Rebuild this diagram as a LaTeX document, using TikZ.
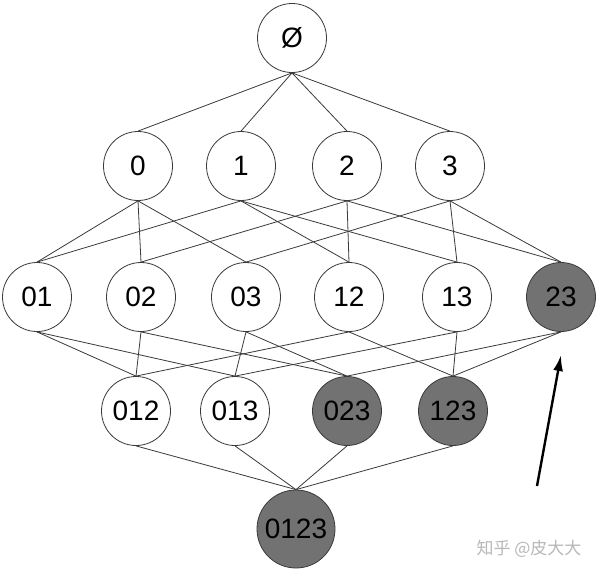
\documentclass[tikz,border=0pt]{standalone}
\usepackage{fontspec}
\setmainfont{Liberation Sans}
\newfontfamily\cjk{Noto Sans CJK SC}
\usetikzlibrary{arrows.meta}
\definecolor{EdgeGrey}{HTML}{3A3A3A}
\definecolor{PickGrey}{HTML}{727272}
\definecolor{MarkGrey}{HTML}{B8B8B8}
\tikzset{set/.style={circle,draw=EdgeGrey,line width=.8pt,fill=white,minimum size=69pt,inner sep=0pt,font=\fontsize{28}{28}\selectfont},
  picked/.style={set,fill=PickGrey}}
\begin{document}
\begin{tikzpicture}[x=1pt,y=-1pt,>=Latex]
\useasboundingbox[fill=white] (0,0) rectangle (600,576);
% lattice of subsets
\node[set] (e) at (292,38){\O};
\node[set] (n0) at (138,166){0}; \node[set] (n1) at (241,166){1}; \node[set] (n2) at (347,166){2}; \node[set] (n3) at (450,166){3};
\node[set] (n01) at (37,297){01}; \node[set] (n02) at (141,297){02}; \node[set] (n03) at (246,297){03};
\node[set] (n12) at (349,297){12}; \node[set] (n13) at (457,297){13}; \node[picked] (n23) at (561,297){23};
\node[set] (n012) at (136,411){012}; \node[set] (n013) at (235,411){013}; \node[picked] (n023) at (347,411){023}; \node[picked] (n123) at (453,411){123};
\node[picked,minimum size=78pt] (n0123) at (296,529){0123};
\begin{scope}[on background layer/.try]
\foreach \a/\b in {e/n0,e/n1,e/n2,e/n3,n0/n01,n0/n02,n0/n03,n1/n01,n1/n12,n1/n13,n2/n02,n2/n12,n2/n23,n3/n03,n3/n13,n3/n23,
  n01/n012,n01/n013,n02/n012,n02/n023,n03/n013,n03/n023,n12/n012,n12/n123,n13/n013,n13/n123,n23/n023,n23/n123,
  n012/n0123,n013/n0123,n023/n0123,n123/n0123}
  \draw[EdgeGrey,line width=.8pt] (\a.south)--(\b.north);
\end{scope}
% pointer to 23
\coordinate (tail) at (537,486); \coordinate (tip) at (561,355);
\draw[->,line width=2.4pt,>={Latex[length=16pt,width=10pt]}] (tail)--(tip);
\node[font=\cjk\fontsize{17}{17}\selectfont,text=MarkGrey] (mark) at (529,549){知乎 @皮大大};
\end{tikzpicture}
\end{document}
